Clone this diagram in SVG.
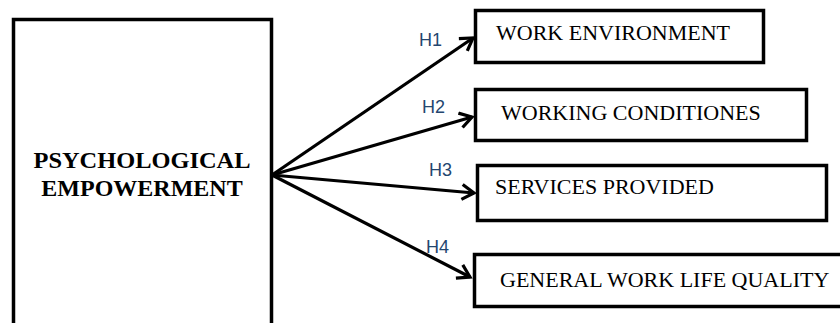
<svg xmlns="http://www.w3.org/2000/svg" width="840" height="323" viewBox="0 0 840 323">
  <style>
    .box { fill: #ffffff; stroke: #000000; stroke-width: 3.5; }
    .main { font-family: "Liberation Serif", "Times New Roman", serif; font-weight: bold; font-size: 24px; fill: #000000; text-anchor: middle; }
    .lbl { font-family: "Liberation Serif", "Times New Roman", serif; font-size: 22px; fill: #000000; }
    .hyp { font-family: "Liberation Sans", Arial, sans-serif; font-size: 18px; fill: #24466F; }
    .conn { stroke: #000000; stroke-width: 3.2; fill: none; marker-end: url(#arrow); }
  </style>
  <defs>
    <marker id="arrow" markerUnits="userSpaceOnUse" markerWidth="18" markerHeight="18" refX="14" refY="9" orient="auto">
      <path d="M2,1.5 L14,9 L2,16.5" fill="none" stroke="#000000" stroke-width="3.2" stroke-linejoin="miter"/>
    </marker>
  </defs>
  <rect width="840" height="323" fill="#ffffff"/>

  <g id="psychological-empowerment">
    <rect class="box" x="13.5" y="19.5" width="258" height="400"/>
    <text class="main" x="142" y="168" textLength="217" lengthAdjust="spacingAndGlyphs">PSYCHOLOGICAL</text>
    <text class="main" x="142" y="196">EMPOWERMENT</text>
  </g>

  <g id="work-environment">
    <rect class="box" x="475.5" y="10.5" width="288" height="52"/>
    <text class="lbl" x="496" y="40">WORK ENVIRONMENT</text>
  </g>

  <g id="working-conditiones">
    <rect class="box" x="475.5" y="89.5" width="331" height="51"/>
    <text class="lbl" x="501" y="120">WORKING CONDITIONES</text>
  </g>

  <g id="services-provided">
    <rect class="box" x="477.5" y="165.5" width="349" height="55"/>
    <text class="lbl" x="495" y="194">SERVICES PROVIDED</text>
  </g>

  <g id="general-work-life-quality">
    <rect class="box" x="474.5" y="254.5" width="400" height="52"/>
    <text class="lbl" x="500" y="287">GENERAL WORK LIFE QUALITY</text>
  </g>

  <g id="connectors">
    <line class="conn" x1="272" y1="175" x2="473" y2="38"/>
    <line class="conn" x1="272" y1="175" x2="472" y2="117"/>
    <line class="conn" x1="272" y1="175" x2="474" y2="193"/>
    <line class="conn" x1="272" y1="175" x2="470" y2="277"/>
    <text class="hyp" x="419" y="46">H1</text>
    <text class="hyp" x="422" y="113">H2</text>
    <text class="hyp" x="429" y="176">H3</text>
    <text class="hyp" x="426" y="253">H4</text>
  </g>
</svg>
